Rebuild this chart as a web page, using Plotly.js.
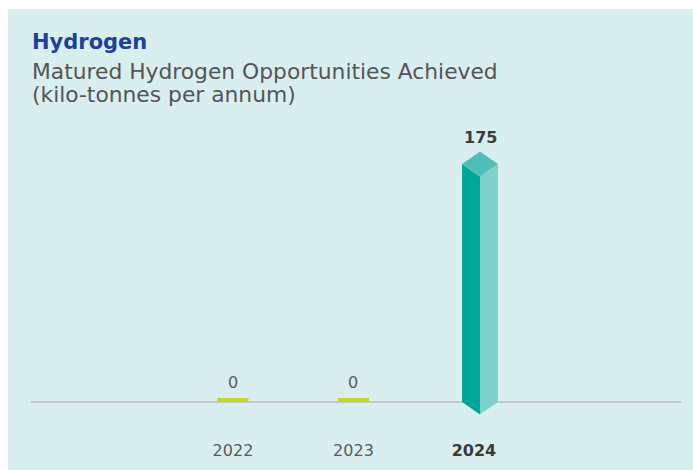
<!DOCTYPE html>
<html>
<head>
<meta charset="utf-8">
<script src="https://cdn.plot.ly/plotly-3.0.1.min.js"></script>
<style>
  html, body { margin: 0; padding: 0; background: #ffffff; width: 693px; height: 470px; overflow: hidden; }
  #chart { position: absolute; left: 8px; top: 9px; width: 685px; height: 461px; }
</style>
</head>
<body>
<div id="chart"></div>
<script>
// ---- data ----
const years = [2022, 2023, 2024];
const values = [0, 0, 175];
const tickLabels = ['2022', '2023', '2024'];
const highlightYear = 2024;
const titleText = 'Hydrogen';
const subtitleLines = ['Matured Hydrogen Opportunities Achieved', '(kilo-tonnes per annum)'];

// ---- style ----
const BG = '#d9efef';
const FONT = '"DejaVu Sans", "Open Sans", sans-serif';
const halfW = 0.149;      // half width of 3D bar (x units)
const stubHalfW = 0.129;  // half width of zero stub
const depth = 9.2;        // diamond half-height (y units)
const stubH = 2.9;        // zero stub height (y units)
const barShift = 0.05;    // horizontal shift of 3D bar

const leftX = [], leftY = [], rightX = [], rightY = [], topX = [], topY = [];
years.forEach((yr, i) => {
  const v = values[i];
  if (v === 0) return;
  const c = yr + barShift;
  leftX.push(c - halfW, c, c, c - halfW, c - halfW, null);
  leftY.push(v, v - depth, -depth, 0, v, null);
  rightX.push(c, c + halfW, c + halfW, c, c, null);
  rightY.push(v - depth, v, 0, -depth, v - depth, null);
  topX.push(c - halfW, c, c + halfW, c, c - halfW, null);
  topY.push(v, v + depth, v, v - depth, v, null);
});

const zeroYears = years.filter((y, i) => values[i] === 0);
const zeroVals = values.filter(v => v === 0);

const traces = [
  { type: 'bar', x: zeroYears, y: zeroVals.map(() => stubH), base: zeroVals,
    width: stubHalfW * 2, marker: { color: '#c8d62b', line: { width: 0 } },
    hoverinfo: 'skip', showlegend: false },
  { type: 'scatter', mode: 'lines', x: leftX, y: leftY, fill: 'toself',
    fillcolor: '#00a59a', line: { width: 0, color: '#00a59a' }, hoverinfo: 'skip', showlegend: false },
  { type: 'scatter', mode: 'lines', x: rightX, y: rightY, fill: 'toself',
    fillcolor: '#7fd2cb', line: { width: 0, color: '#7fd2cb' }, hoverinfo: 'skip', showlegend: false },
  { type: 'scatter', mode: 'lines', x: topX, y: topY, fill: 'toself',
    fillcolor: '#4ebfb7', line: { width: 0, color: '#4ebfb7' }, hoverinfo: 'skip', showlegend: false }
];

const annotations = [];
years.forEach((yr, i) => {
  const v = values[i];
  if (v === 0) {
    annotations.push({ x: yr, y: v, xref: 'x', yref: 'y', text: String(v), showarrow: false,
      yanchor: 'bottom', yshift: 8, font: { family: FONT, size: 16, color: '#5a5a5a' } });
  } else {
    annotations.push({ x: yr + barShift, y: v + depth, xref: 'x', yref: 'y', text: '<b>' + v + '</b>',
      showarrow: false, yanchor: 'bottom', yshift: 2, font: { family: FONT, size: 16, color: '#3d3d3f' } });
  }
});
annotations.push({ xref: 'paper', yref: 'paper', x: 0, y: 1, xanchor: 'left', yanchor: 'middle',
  xshift: -1, yshift: 87, text: '<b>' + titleText + '</b>', showarrow: false,
  font: { family: FONT, size: 21, color: '#1f3f9c' } });
subtitleLines.forEach((t, k) => {
  annotations.push({ xref: 'paper', yref: 'paper', x: 0, y: 1, xanchor: 'left', yanchor: 'middle',
    xshift: -1, yshift: 58 - 23 * k, text: t, showarrow: false,
    font: { family: FONT, size: 21.8, color: '#555555' } });
});

const ticktext = years.map((y, i) => y === highlightYear
  ? '<span style="color:#3a3a3c"><b>' + tickLabels[i] + '</b></span>' : tickLabels[i]);

const layout = {
  width: 685, height: 461,
  margin: { l: 23, r: 12, t: 120, b: 40, pad: 0 },
  paper_bgcolor: BG, plot_bgcolor: BG,
  barmode: 'overlay',
  showlegend: false,
  xaxis: { range: [2020.324, 2025.718], tickvals: years, ticktext: ticktext,
    showgrid: false, zeroline: false, showline: false,
    ticks: 'outside', ticklen: 6, tickcolor: 'rgba(0,0,0,0)',
    tickfont: { family: FONT, size: 16, color: '#5a5a5a' }, fixedrange: true },
  yaxis: { range: [-20.59, 200.74], showgrid: false, showticklabels: false, ticks: '',
    zeroline: true, zerolinecolor: '#c3c7c7', zerolinewidth: 2, showline: false, fixedrange: true },
  annotations: annotations
};

Plotly.newPlot('chart', traces, layout, { staticPlot: true, displayModeBar: false });
</script>
</body>
</html>
